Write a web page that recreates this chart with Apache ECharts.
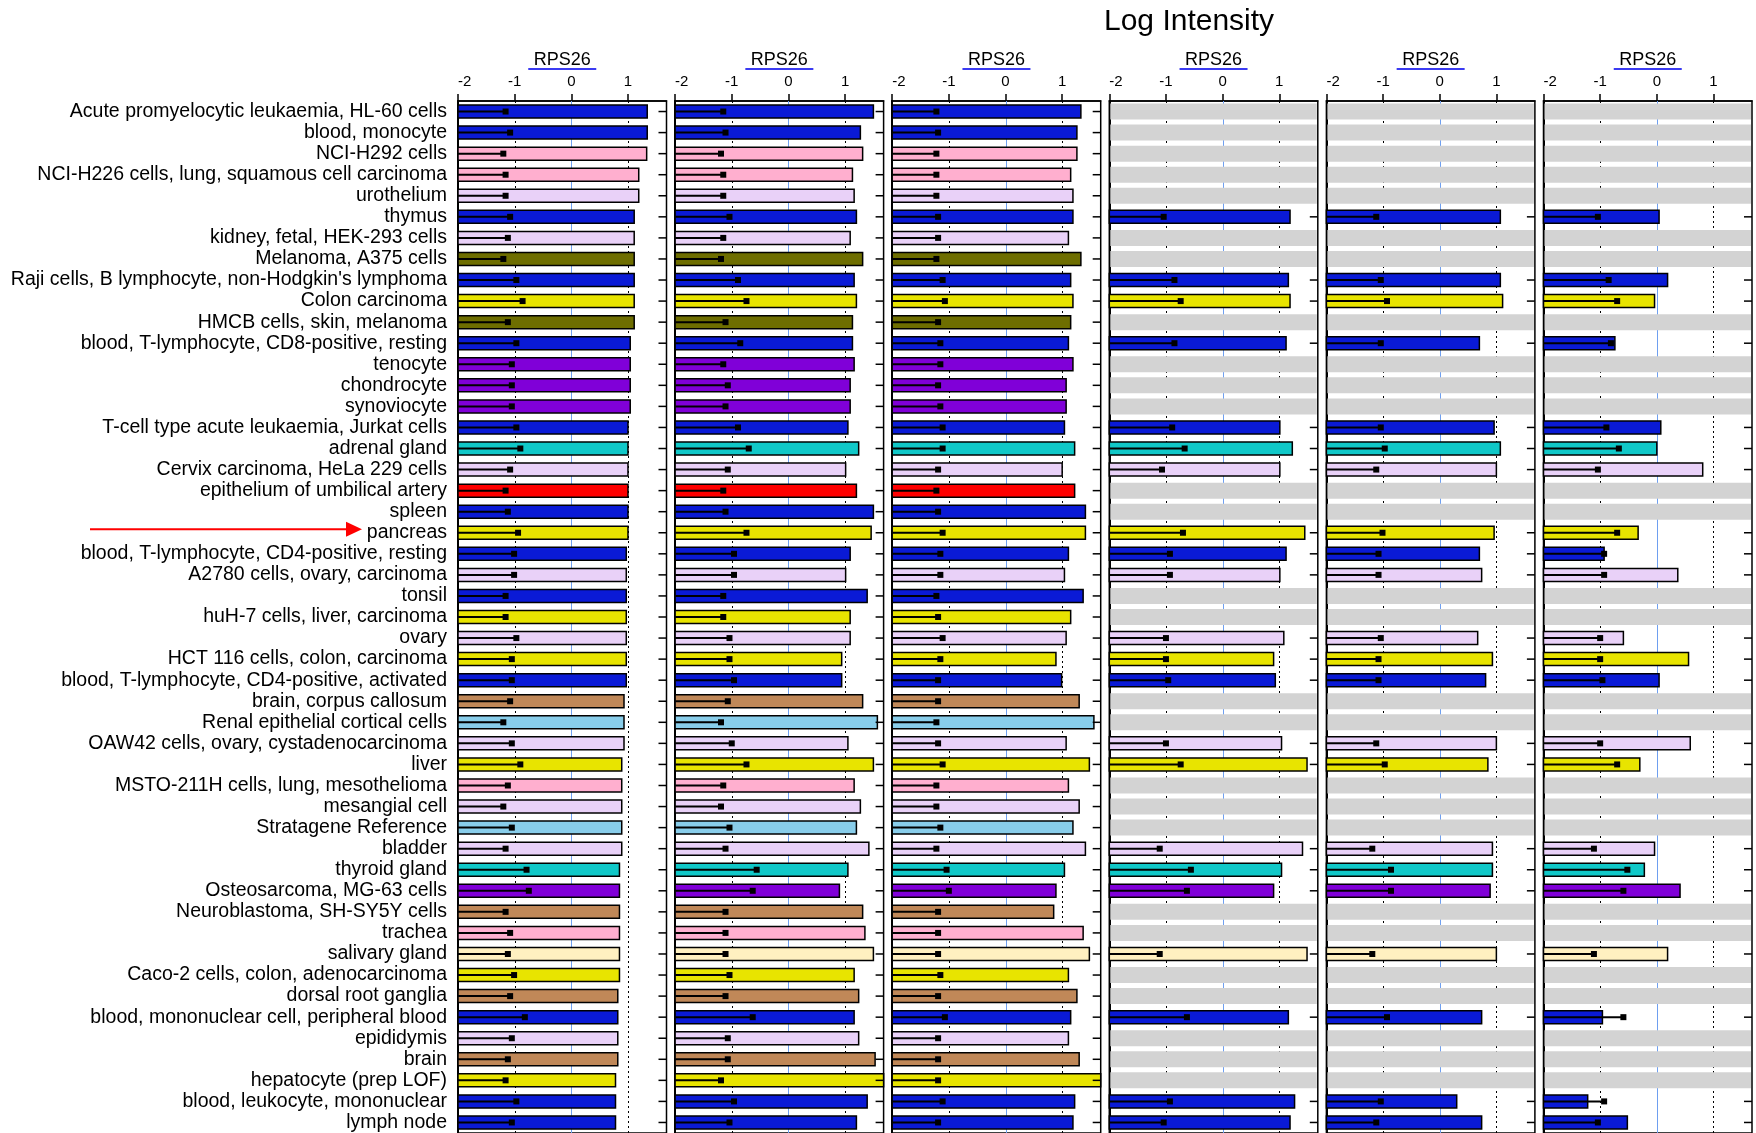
<!DOCTYPE html>
<html><head><meta charset="utf-8">
<script src="https://cdn.jsdelivr.net/npm/echarts@6/dist/echarts.min.js"></script>
<style>html,body{margin:0;padding:0;background:#fff}#c{width:1756px;height:1133px}</style>
</head><body><div id="c"></div>
<script>
const _ = null;
const titleText = 'Log Intensity';
const geneLabel = 'RPS26';
const xTicks = [-2, -1, 0, 1];
const highlighted = 'pancreas';

const categories = [
  'Acute promyelocytic leukaemia, HL-60 cells','blood, monocyte','NCI-H292 cells',
  'NCI-H226 cells, lung, squamous cell carcinoma','urothelium','thymus','kidney, fetal, HEK-293 cells',
  'Melanoma, A375 cells',"Raji cells, B lymphocyte, non-Hodgkin's lymphoma",'Colon carcinoma',
  'HMCB cells, skin, melanoma','blood, T-lymphocyte, CD8-positive, resting','tenocyte','chondrocyte',
  'synoviocyte','T-cell type acute leukaemia, Jurkat cells','adrenal gland','Cervix carcinoma, HeLa 229 cells',
  'epithelium of umbilical artery','spleen','pancreas','blood, T-lymphocyte, CD4-positive, resting',
  'A2780 cells, ovary, carcinoma','tonsil','huH-7 cells, liver, carcinoma','ovary','HCT 116 cells, colon, carcinoma',
  'blood, T-lymphocyte, CD4-positive, activated','brain, corpus callosum','Renal epithelial cortical cells',
  'OAW42 cells, ovary, cystadenocarcinoma','liver','MSTO-211H cells, lung, mesothelioma','mesangial cell',
  'Stratagene Reference','bladder','thyroid gland','Osteosarcoma, MG-63 cells','Neuroblastoma, SH-SY5Y cells',
  'trachea','salivary gland','Caco-2 cells, colon, adenocarcinoma','dorsal root ganglia',
  'blood, mononuclear cell, peripheral blood','epididymis','brain','hepatocyte (prep LOF)',
  'blood, leukocyte, mononuclear','lymph node'
];

const tissueGroups = [
  'hematopoietic','hematopoietic','respiratory','respiratory','urogenital','hematopoietic','urogenital',
  'skin','hematopoietic','digestive','skin','hematopoietic','connective','connective','connective',
  'hematopoietic','endocrine','urogenital','vascular','hematopoietic','digestive','hematopoietic',
  'urogenital','hematopoietic','digestive','urogenital','digestive','hematopoietic','nervous','renal',
  'urogenital','digestive','respiratory','urogenital','renal','urogenital','endocrine','connective',
  'nervous','respiratory','exocrine','digestive','nervous','hematopoietic','urogenital','nervous',
  'digestive','hematopoietic','hematopoietic'
];

const p1Values = [1.34,1.34,1.33,1.19,1.19,1.11,1.11,1.11,1.11,1.11, 1.11,1.04,1.04,1.04,1.04,1.00,1.00,1.00,1.00,1.00,
  1.00,0.97,0.97,0.97,0.97,0.97,0.97,0.97,0.93,0.93, 0.93,0.89,0.89,0.89,0.89,0.89,0.85,0.85,0.85,0.85,
  0.85,0.85,0.82,0.82,0.82,0.82,0.78,0.78,0.78];
const p1Markers = [-1.16,-1.08,-1.20,-1.16,-1.16,-1.08,-1.12,-1.20,-0.97,-0.86, -1.12,-0.97,-1.05,-1.05,-1.05,-0.97,-0.90,-1.08,-1.16,-1.12,
  -0.94,-1.01,-1.01,-1.16,-1.16,-0.97,-1.05,-1.05,-1.08,-1.20, -1.05,-0.90,-1.12,-1.20,-1.05,-1.16,-0.79,-0.75,-1.16,-1.08,
  -1.12,-1.01,-1.08,-0.82,-1.05,-1.12,-1.16,-0.97,-1.05];

const p2Values = [1.50,1.27,1.31,1.13,1.16,1.20,1.09,1.31,1.16,1.20, 1.13,1.13,1.16,1.09,1.09,1.05,1.24,1.01,1.20,1.50,
  1.46,1.09,1.01,1.39,1.09,1.09,0.94,0.94,1.31,1.57, 1.05,1.50,1.16,1.27,1.20,1.42,1.05,0.90,1.31,1.35,
  1.50,1.16,1.24,1.16,1.24,1.53,1.75,1.39,1.20];
const p2Markers = [-1.15,-1.11,-1.19,-1.15,-1.15,-1.04,-1.15,-1.19,-0.89,-0.74, -1.11,-0.85,-1.15,-1.07,-1.11,-0.89,-0.70,-1.07,-1.15,-1.11,
  -0.74,-0.96,-0.96,-1.15,-1.15,-1.04,-1.04,-0.96,-1.07,-1.19, -1.00,-0.74,-1.15,-1.19,-1.04,-1.11,-0.56,-0.63,-1.11,-1.11,
  -1.11,-1.04,-1.11,-0.63,-1.07,-1.07,-1.19,-0.96,-1.04];

const p3Values = [1.33,1.26,1.26,1.15,1.19,1.19,1.11,1.33,1.15,1.19, 1.15,1.11,1.19,1.07,1.07,1.04,1.22,1.00,1.22,1.41,
  1.41,1.11,1.04,1.37,1.15,1.07,0.89,0.99,1.30,1.56, 1.07,1.48,1.11,1.30,1.19,1.41,1.04,0.89,0.85,1.37,
  1.48,1.11,1.26,1.15,1.11,1.30,1.75,1.22,1.19];
const p3Markers = [-1.22,-1.19,-1.22,-1.22,-1.22,-1.19,-1.19,-1.22,-1.11,-1.07, -1.19,-1.15,-1.15,-1.19,-1.15,-1.11,-1.11,-1.19,-1.22,-1.19,
  -1.11,-1.15,-1.15,-1.22,-1.19,-1.11,-1.15,-1.19,-1.19,-1.22, -1.19,-1.11,-1.22,-1.22,-1.15,-1.22,-1.04,-1.00,-1.19,-1.19,
  -1.19,-1.15,-1.19,-1.07,-1.19,-1.19,-1.19,-1.11,-1.19];

const p4Values = [_,_,_,_,_,1.19,_,_,1.16,1.19, _,1.12,_,_,_,1.01,1.23,1.01,_,_,
  1.45,1.12,1.01,_,_,1.08,0.90,0.93,_,_, 1.04,1.49,_,_,_,1.41,1.04,0.90,_,_, 1.49,_,_,1.16,_,_,_,1.27,1.19];
const p4Markers = [_,_,_,_,_,-1.04,_,_,-0.85,-0.74, _,-0.85,_,_,_,-0.89,-0.67,-1.07,_,_,
  -0.70,-0.93,-0.93,_,_,-1.00,-1.00,-0.96,_,_, -1.00,-0.74,_,_,_,-1.11,-0.56,-0.63,_,_, -1.11,_,_,-0.63,_,_,_,-0.93,-1.04];

const p5Values = [_,_,_,_,_,1.07,_,_,1.07,1.11, _,0.70,_,_,_,0.96,1.07,1.00,_,_,
  0.96,0.70,0.74,_,_,0.67,0.93,0.81,_,_, 1.00,0.85,_,_,_,0.93,0.93,0.89,_,_, 1.00,_,_,0.74,_,_,_,0.30,0.74];
const p5Markers = [_,_,_,_,_,-1.12,_,_,-1.04,-0.93, _,-1.04,_,_,_,-1.04,-0.97,-1.12,_,_,
  -1.01,-1.08,-1.08,_,_,-1.04,-1.08,-1.08,_,_, -1.12,-0.97,_,_,_,-1.19,-0.86,-0.86,_,_, -1.19,_,_,-0.93,_,_,_,-1.04,-1.12];

const p6Values = [_,_,_,_,_,0.04,_,_,0.19,-0.04, _,-0.74,_,_,_,0.07,0.00,0.81,_,_,
  -0.33,-0.93,0.37,_,_,-0.59,0.56,0.04,_,_, 0.59,-0.30,_,_,_,-0.04,-0.22,0.41,_,_, 0.19,_,_,-0.96,_,_,_,-1.22,-0.52];
const p6Markers = [_,_,_,_,_,-1.04,_,_,-0.85,-0.70, _,-0.81,_,_,_,-0.89,-0.67,-1.04,_,_,
  -0.70,-0.93,-0.93,_,_,-1.00,-1.00,-0.96,_,_, -1.00,-0.70,_,_,_,-1.11,-0.52,-0.59,_,_, -1.11,_,_,-0.59,_,_,_,-0.93,-1.04];

// ---- styles & layout ----
const groupColors = {
  hematopoietic:'#0a1ad6', respiratory:'#ffafcf', urogenital:'#e9d1f8', skin:'#6e6e00', digestive:'#e8e400',
  connective:'#8000d8', endocrine:'#10c8c8', vascular:'#ff0000', nervous:'#c08858', renal:'#88cdea', exocrine:'#fff0c0'
};
const FONT = 'Liberation Sans';
const X_MIN = -2, X_MAX = 1.68;
const LEFT0 = 458, STEP = 217.1, PW = 208.5, TOP = 101, PH = 1034;

const panels = [[p1Values,p1Markers],[p2Values,p2Markers],[p3Values,p3Markers],
                [p4Values,p4Markers],[p5Values,p5Markers],[p6Values,p6Markers]];

const grids = [], xAxes = [], yAxes = [], series = [], graphics = [];

graphics.push({type:'text', left:1104, top:7, style:{text:titleText, font:'30px "'+FONT+'"', fill:'#000'}});

panels.forEach(([vals, marks], p) => {
  const left = LEFT0 + STEP * p;
  grids.push({left, top:TOP, width:PW, height:PH, show:true, borderColor:'#000', borderWidth:1.5, backgroundColor:'#fff'});
  xAxes.push({gridIndex:p, type:'value', position:'top', min:X_MIN, max:X_MAX, interval:1,
    axisLine:{show:true, onZero:false, lineStyle:{color:'#000', width:1.5}},
    axisTick:{show:true, length:7, inside:false, customValues:xTicks, lineStyle:{color:'#000', width:1.5}},
    axisLabel:{show:true, customValues:xTicks, fontSize:15, color:'#000', margin:12, fontFamily:FONT, alignMinLabel:'left'},
    splitLine:{show:false}});
  yAxes.push({gridIndex:p, type:'category', inverse:true, data:categories,
    axisLine:{show:true, onZero:false, lineStyle:{color:'#000', width:2}},
    axisTick:{show:false},
    axisLabel:{show:p === 0, interval:0, fontSize:19.5, color:'#000', margin:11, fontFamily:FONT},
    splitLine:{show:false}});

  // grid reference lines at -1, 0, 1
  series.push({type:'custom', xAxisIndex:p, yAxisIndex:p, z:1, silent:true, data:[[0, 0]],
    renderItem:(params, api) => {
      const cs = params.coordSys;
      return {type:'group', children:[-1, 0, 1].map(v => {
        const x = Math.round(api.coord([v, 0])[0]) + 0.5;
        return {type:'line', shape:{x1:x, y1:cs.y, x2:x, y2:cs.y + cs.height},
          style:{stroke:v === 0 ? '#6e9ff0' : '#000', lineWidth:1, lineDash:v === 0 ? null : [2, 3]}};
      })};
    }});

  // grey bands for rows without measurement
  const missing = [];
  vals.forEach((v, i) => { if (v === null) missing.push([X_MIN, i]); });
  series.push({type:'custom', xAxisIndex:p, yAxisIndex:p, z:2, silent:true, data:missing,
    encode:{x:0, y:1},
    renderItem:(params, api) => {
      const row = api.value(1);
      const a = api.coord([X_MIN, row]), b = api.coord([X_MAX, row]);
      return {type:'rect', shape:{x:a[0] + 1, y:a[1] - 8, width:b[0] - a[0] - 2, height:16}, style:{fill:'#d3d3d3'}};
    }});

  // bars with marker lines
  const rows = [];
  vals.forEach((v, i) => { if (v !== null) rows.push([v, i, marks[i]]); });
  series.push({type:'custom', xAxisIndex:p, yAxisIndex:p, z:3, silent:true, data:rows,
    encode:{x:0, y:1},
    renderItem:(params, api) => {
      const v = Math.min(api.value(0), X_MAX), row = api.value(1), m = api.value(2);
      const s = api.coord([X_MIN, row]), e = api.coord([v, row]), mk = api.coord([m, row]), r = api.coord([X_MAX, row]);
      const yc = s[1];
      return {type:'group', children:[
        {type:'rect', shape:{x:s[0], y:yc - 6.5, width:e[0] - s[0], height:13},
          style:{fill:groupColors[tissueGroups[row]], stroke:'#000', lineWidth:1.5}},
        {type:'line', shape:{x1:s[0], y1:yc, x2:mk[0], y2:yc}, style:{stroke:'#000', lineWidth:2}},
        {type:'rect', shape:{x:mk[0] - 3, y:yc - 3, width:6, height:6}, style:{fill:'#000'}},
        {type:'line', shape:{x1:r[0] - 8, y1:yc, x2:r[0], y2:yc}, style:{stroke:'#000', lineWidth:1.5}}
      ]};
    }});

  const cx = left + PW / 2;
  graphics.push({type:'text', x:cx, y:60, style:{text:geneLabel, font:'18px "'+FONT+'"', fill:'#000', align:'center', verticalAlign:'middle'}});
  graphics.push({type:'rect', shape:{x:cx - 34, y:68, width:68, height:2}, style:{fill:'#3b3bf2'}});
});

const chart = echarts.init(document.getElementById('c'), null, {renderer:'canvas'});
chart.setOption({backgroundColor:'#fff', animation:false, grid:grids, xAxis:xAxes, yAxis:yAxes, series:series, graphic:graphics});

// arrow pointing to the highlighted tissue label
const yArrow = chart.convertToPixel({gridIndex:0}, [X_MIN, categories.indexOf(highlighted)])[1] - 3.5;
graphics.push({type:'line', shape:{x1:90, y1:yArrow, x2:348, y2:yArrow}, style:{stroke:'#ff0000', lineWidth:2}});
graphics.push({type:'polygon', shape:{points:[[346, yArrow - 7.5], [362, yArrow], [346, yArrow + 7.5]]}, style:{fill:'#ff0000'}});
chart.setOption({graphic:graphics});
</script></body></html>
